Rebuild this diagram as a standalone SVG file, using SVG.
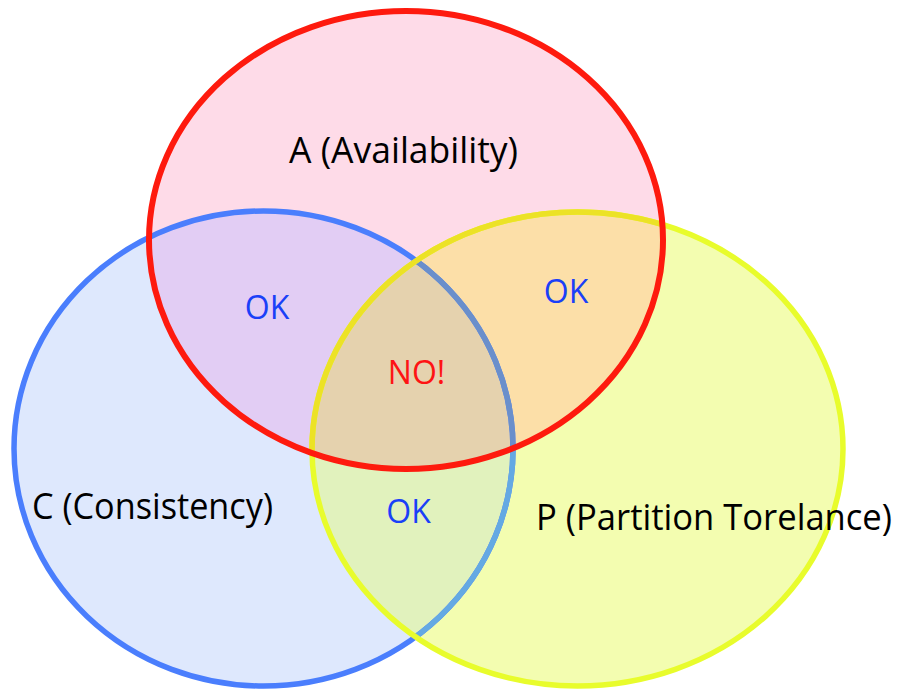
<svg xmlns="http://www.w3.org/2000/svg" xmlns:xlink="http://www.w3.org/1999/xlink" width="897" height="691" viewBox="0 0 897 691">
  <style>
    .label { font-family: "Open Sans", "Liberation Sans", sans-serif; font-size: 36px; fill: #000000; text-anchor: middle; }
    .ok { font-family: "Open Sans", "Liberation Sans", sans-serif; font-size: 32px; fill: #1a40f8; text-anchor: middle; }
    .no { font-family: "Open Sans", "Liberation Sans", sans-serif; font-size: 32px; fill: #fe1414; text-anchor: middle; }
    .ring { fill: none; }
  </style>
  <defs>
    <!-- the three sets -->
    <ellipse id="eA" cx="406" cy="240" rx="257" ry="229"/>
    <ellipse id="eC" cx="263.5" cy="448.5" rx="249.5" ry="237.5"/>
    <ellipse id="eP" cx="577.5" cy="449" rx="265.5" ry="237"/>
    <clipPath id="inA"><use xlink:href="#eA"/></clipPath>
    <clipPath id="inC"><use xlink:href="#eC"/></clipPath>
    <clipPath id="inP"><use xlink:href="#eP"/></clipPath>
    <!-- everything except set A -->
    <clipPath id="outA">
      <path clip-rule="evenodd" d="M0,0 H897 V691 H0 Z M149,240 a257,229 0 1,0 514,0 a257,229 0 1,0 -514,0 Z"/>
    </clipPath>
  </defs>

  <!-- set fills -->
  <g id="set-c">
    <use xlink:href="#eC" fill="#dee8fd"/>
  </g>
  <g id="set-p">
    <use xlink:href="#eP" fill="#f3fdb0"/>
  </g>
  <g id="set-a">
    <use xlink:href="#eA" fill="#fedbe8"/>
  </g>

  <!-- overlap regions -->
  <g id="overlaps">
    <g clip-path="url(#inA)"><use xlink:href="#eC" fill="#e2cdf4"/></g>
    <g clip-path="url(#inC)"><use xlink:href="#eP" fill="#e1f2bd"/></g>
    <g clip-path="url(#inA)"><use xlink:href="#eP" fill="#fcdfa8"/></g>
    <g clip-path="url(#inA)"><g clip-path="url(#inC)"><use xlink:href="#eP" fill="#e5d2ae"/></g></g>
  </g>

  <!-- outlines -->
  <g id="outlines">
    <use xlink:href="#eC" class="ring" stroke="#4a7efd" stroke-width="5.5"/>
    <g clip-path="url(#inP)">
      <g clip-path="url(#outA)"><use xlink:href="#eC" class="ring" stroke="#64a9e3" stroke-width="5.5"/></g>
      <g clip-path="url(#inA)"><use xlink:href="#eC" class="ring" stroke="#6a8fcb" stroke-width="5.5"/></g>
    </g>
    <use xlink:href="#eP" class="ring" stroke="#e8fc2c" stroke-width="5.5"/>
    <g clip-path="url(#inA)"><use xlink:href="#eP" class="ring" stroke="#ece226" stroke-width="5.5"/></g>
    <use xlink:href="#eA" class="ring" stroke="#fe1a0e" stroke-width="6"/>
  </g>

  <!-- labels -->
  <g id="labels">
    <text class="label" x="403.5" y="163" textLength="229" lengthAdjust="spacingAndGlyphs">A (Availability)</text>
    <text class="label" x="152.5" y="519" textLength="241" lengthAdjust="spacingAndGlyphs">C (Consistency)</text>
    <text class="label" x="714" y="530" textLength="356" lengthAdjust="spacingAndGlyphs">P (Partition Torelance)</text>
    <text class="ok" x="267" y="319">OK</text>
    <text class="ok" x="566" y="303">OK</text>
    <text class="no" x="416.5" y="384">NO!</text>
    <text class="ok" x="408.5" y="523">OK</text>
  </g>
</svg>
